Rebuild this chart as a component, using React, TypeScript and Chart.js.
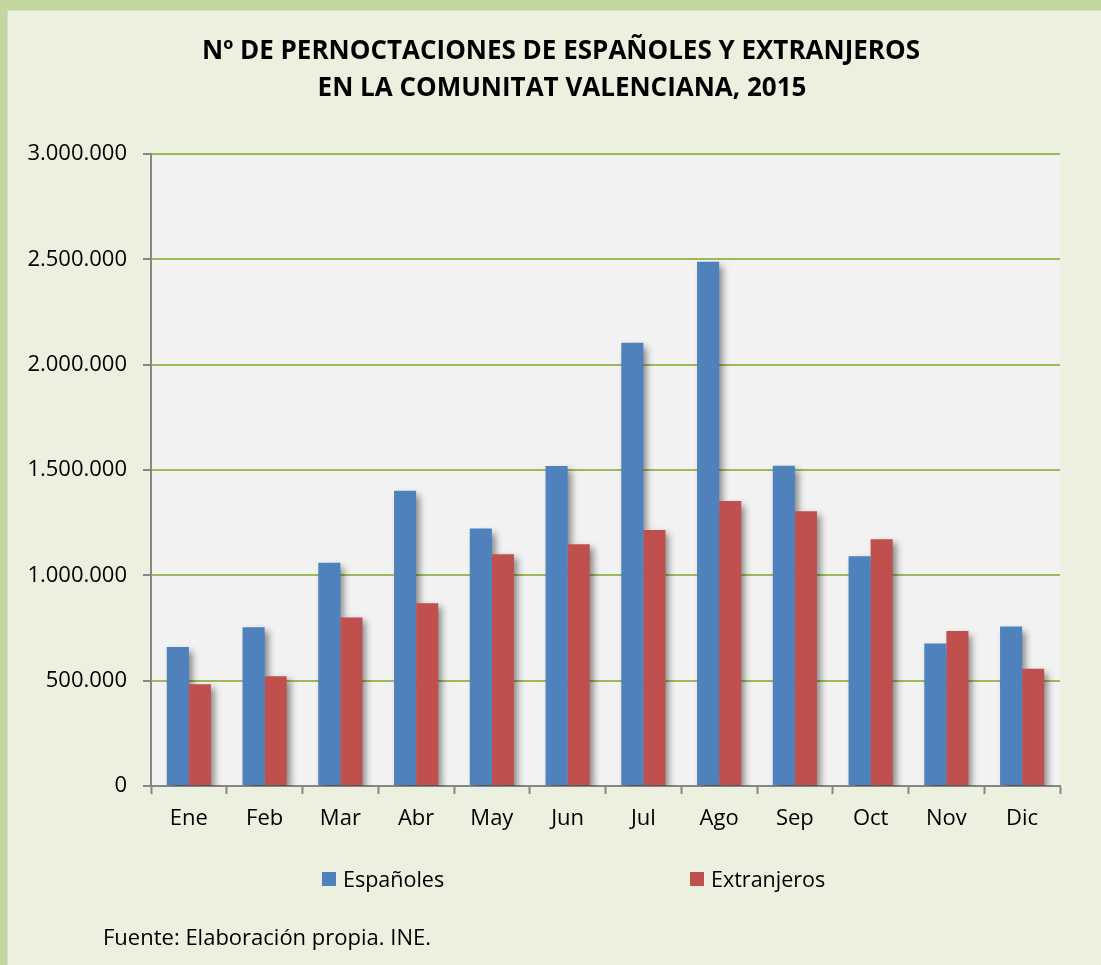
import React, { useEffect, useRef } from "react";
import { Chart, registerables } from "chart.js";

Chart.register(...registerables);

const months = ["Ene", "Feb", "Mar", "Abr", "May", "Jun", "Jul", "Ago", "Sep", "Oct", "Nov", "Dic"];
const espanoles = [660000, 753000, 1060000, 1402000, 1222000, 1519000, 2104000, 2489000, 1520000, 1090000, 676000, 757000];
const extranjeros = [483000, 521000, 800000, 867000, 1100000, 1148000, 1215000, 1353000, 1304000, 1171000, 736000, 557000];
const titleLines = ["Nº DE PERNOCTACIONES DE ESPAÑOLES Y EXTRANJEROS", "EN LA COMUNITAT VALENCIANA, 2015"];
const seriesNames = ["Españoles", "Extranjeros"];
const sourceNote = "Fuente: Elaboración propia. INE.";
const yTicks = { min: 0, max: 3000000, step: 500000 };

const FONT = "'Open Sans', 'DejaVu Sans', sans-serif";
const W = 1101;
const H = 965;

function fmt(v: number): string {
  return String(Math.round(v)).replace(/\B(?=(\d{3})+(?!\d))/g, ".");
}

const bgPlugin = {
  id: "bgPlugin",
  beforeDraw(chart: any) {
    const ctx = chart.ctx;
    const a = chart.chartArea;
    ctx.save();
    ctx.fillStyle = "#C3D69B";
    ctx.fillRect(0, 0, W, H);
    ctx.fillStyle = "#EBF1DE";
    ctx.fillRect(7, 10, W - 7, H - 10);
    ctx.strokeStyle = "#d6dccb";
    ctx.lineWidth = 1;
    ctx.beginPath();
    ctx.moveTo(7.5, H);
    ctx.lineTo(7.5, 10.5);
    ctx.lineTo(W, 10.5);
    ctx.stroke();
    ctx.fillStyle = "#F2F2F2";
    ctx.fillRect(a.left, a.top, a.right - a.left, a.bottom - a.top);
    ctx.restore();
  },
};

const shadowPlugin = {
  id: "shadowPlugin",
  beforeDatasetsDraw(chart: any) {
    const ctx = chart.ctx;
    const a = chart.chartArea;
    ctx.save();
    ctx.beginPath();
    ctx.rect(a.left, a.top - 10, a.right - a.left + 20, a.bottom - a.top + 10);
    ctx.clip();
    const off = 10000;
    ctx.shadowColor = "rgba(0,0,0,0.45)";
    ctx.shadowBlur = 7;
    ctx.shadowOffsetX = off + 4;
    ctx.shadowOffsetY = 4;
    ctx.fillStyle = "#000";
    chart.data.datasets.forEach((_d: any, i: number) => {
      const meta = chart.getDatasetMeta(i);
      meta.data.forEach((el: any) => {
        const w = el.width;
        const top = Math.min(el.y, el.base);
        const h = Math.abs(el.base - el.y);
        ctx.fillRect(el.x - w / 2 - off, top, w, h);
      });
    });
    ctx.restore();
  },
};

const textPlugin = {
  id: "textPlugin",
  afterDraw(chart: any) {
    const ctx = chart.ctx;
    ctx.save();
    ctx.fillStyle = "#000";
    ctx.textAlign = "center";
    ctx.textBaseline = "alphabetic";
    ctx.font = `bold 26px ${FONT}`;
    ctx.fillText(titleLines[0], 561, 59);
    ctx.fillText(titleLines[1], 562, 96);

    // legend
    ctx.textAlign = "left";
    ctx.font = `21.5px ${FONT}`;
    const legendX = [322, 690];
    chart.data.datasets.forEach((d: any, i: number) => {
      ctx.fillStyle = d.backgroundColor;
      ctx.fillRect(legendX[i], 872, 14, 14);
      ctx.fillStyle = "#000";
      ctx.fillText(d.label, legendX[i] + 21, 887);
    });

    ctx.font = `22px ${FONT}`;
    ctx.fillText(sourceNote, 103, 945);
    ctx.restore();
  },
};

export default function App() {
  const ref = useRef<HTMLCanvasElement | null>(null);
  useEffect(() => {
    if (!ref.current) return;
    const chart = new Chart(ref.current, {
      type: "bar",
      data: {
        labels: months,
        datasets: [
          {
            label: seriesNames[0],
            data: espanoles,
            backgroundColor: "#4F81BD",
            borderWidth: 0,
            categoryPercentage: 0.583,
            barPercentage: 1,
          },
          {
            label: seriesNames[1],
            data: extranjeros,
            backgroundColor: "#C0504D",
            borderWidth: 0,
            categoryPercentage: 0.583,
            barPercentage: 1,
          },
        ],
      },
      options: {
        responsive: false,
        animation: false,
        events: [],
        layout: { padding: { left: 0, right: 41, top: 154, bottom: 129 } },
        plugins: {
          legend: { display: false },
          title: { display: false },
          tooltip: { enabled: false },
        },
        scales: {
          x: {
            offset: true,
            grid: {
              offset: true,
              drawOnChartArea: false,
              drawTicks: true,
              tickLength: 8,
              tickColor: "#868686",
              tickWidth: 2,
            },
            border: { display: true, color: "#868686", width: 2 },
            ticks: {
              color: "#000",
              padding: 12,
              font: { family: FONT, size: 22 },
              maxRotation: 0,
            },
            afterFit(s: any) {
              s.height = 50;
            },
          },
          y: {
            min: yTicks.min,
            max: yTicks.max,
            grid: {
              color: "#9BBB59",
              lineWidth: 2,
              drawTicks: true,
              tickLength: 8,
              tickColor: "#868686",
              tickWidth: 2,
            },
            border: { display: true, color: "#868686", width: 2 },
            ticks: {
              stepSize: yTicks.step,
              color: "#000",
              padding: 16,
              font: { family: FONT, size: 22 },
              callback: (v: any) => fmt(Number(v)),
            },
            afterFit(s: any) {
              s.width = 151;
            },
          },
        },
      },
      plugins: [bgPlugin, shadowPlugin, textPlugin],
    });
    return () => chart.destroy();
  }, []);

  return (
    <div style={{ position: "fixed", left: 0, top: 0, width: W, height: H }}>
      <canvas ref={ref} width={W} height={H} style={{ width: W, height: H, display: "block" }} />
    </div>
  );
}
